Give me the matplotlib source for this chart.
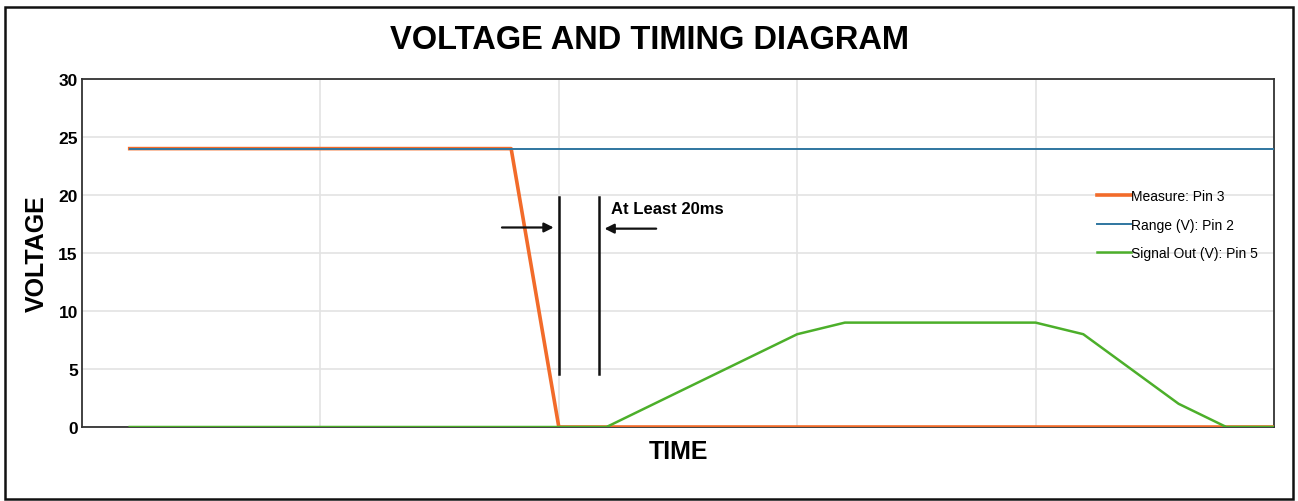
import matplotlib.pyplot as plt
from matplotlib.patches import Rectangle

plt.rcParams['font.family'] = ['Liberation Sans', 'DejaVu Sans']

# time in grid units (one vertical gridline per unit)
t = [0.2, 0.4, 0.6, 0.8, 1.0, 1.2, 1.4, 1.6, 1.8, 2.0, 2.2, 2.4, 2.6,
     2.8, 3.0, 3.2, 3.4, 3.6, 3.8, 4.0, 4.2, 4.4, 4.6, 4.8, 5.0]
measure = [24, 24, 24, 24, 24, 24, 24, 24, 24, 0, 0, 0, 0,
           0, 0, 0, 0, 0, 0, 0, 0, 0, 0, 0, 0]
range_v = [24] * 25
signal = [0, 0, 0, 0, 0, 0, 0, 0, 0, 0, 0, 2, 4,
          6, 8, 9, 9, 9, 9, 9, 8, 5, 2, 0, 0]

labels = ['Measure: Pin 3', 'Range (V): Pin 2', 'Signal Out (V): Pin 5']
colors = ['#f26b2a', '#2f76a0', '#4caf2a']

fig = plt.figure(figsize=(12.98, 5.02), dpi=100)
ax = fig.add_axes([0.0632, 0.1474, 0.9183, 0.6932])

ax.plot(t, measure, color=colors[0], lw=2.6, label=labels[0], zorder=3)
ax.plot(t, range_v, color=colors[1], lw=1.4, label=labels[1], zorder=4)
ax.plot(t, signal, color=colors[2], lw=1.8, label=labels[2], zorder=5)

ax.set_xlim(0, 5)
ax.set_ylim(0, 30)
ax.set_yticks([0, 5, 10, 15, 20, 25, 30])
ax.set_xticks([1, 2, 3, 4])
ax.set_xticklabels([])
ax.tick_params(axis='x', length=0)
ax.tick_params(axis='y', length=0, labelsize=12.5, pad=3)
for lab in ax.get_yticklabels():
    lab.set_fontweight('bold')
ax.grid(True, color='#e3e3e3', lw=1.2)
ax.set_axisbelow(True)
for sp in ax.spines.values():
    sp.set_color('#333333')
    sp.set_linewidth(1.3)

ax.set_ylabel('VOLTAGE', fontsize=18, fontweight='bold', labelpad=7)
ax.set_xlabel('TIME', fontsize=18, fontweight='bold', labelpad=5)
fig.text(0.5, 0.92, 'VOLTAGE AND TIMING DIAGRAM', ha='center', va='center',
         fontsize=23.5, fontweight='bold')

# timing markers
ax.plot([2.0, 2.0], [4.6, 19.8], color='#111111', lw=1.8, zorder=6)
ax.plot([2.17, 2.17], [4.6, 19.8], color='#111111', lw=1.8, zorder=6)
ax.annotate('', xy=(1.99, 17.2), xytext=(1.75, 17.2),
            arrowprops=dict(arrowstyle='-|>', color='#111111', lw=1.6,
                            mutation_scale=14))
ax.annotate('', xy=(2.18, 17.1), xytext=(2.42, 17.1),
            arrowprops=dict(arrowstyle='-|>', color='#111111', lw=1.6,
                            mutation_scale=14))
ax.text(2.22, 18.8, 'At Least 20ms', fontsize=12, fontweight='bold',
        va='center', ha='left')

ax.legend(loc='upper left', bbox_to_anchor=(0.8465, 0.7), frameon=False,
          fontsize=10, handlelength=2.45, handletextpad=0.0,
          labelspacing=1.05, borderaxespad=0)

fig.patches.append(Rectangle((5 / 1298, 2 / 502), 1288 / 1298, 492 / 502,
                             transform=fig.transFigure, fill=False,
                             edgecolor='#111111', lw=1.8))

plt.savefig('out.png')
